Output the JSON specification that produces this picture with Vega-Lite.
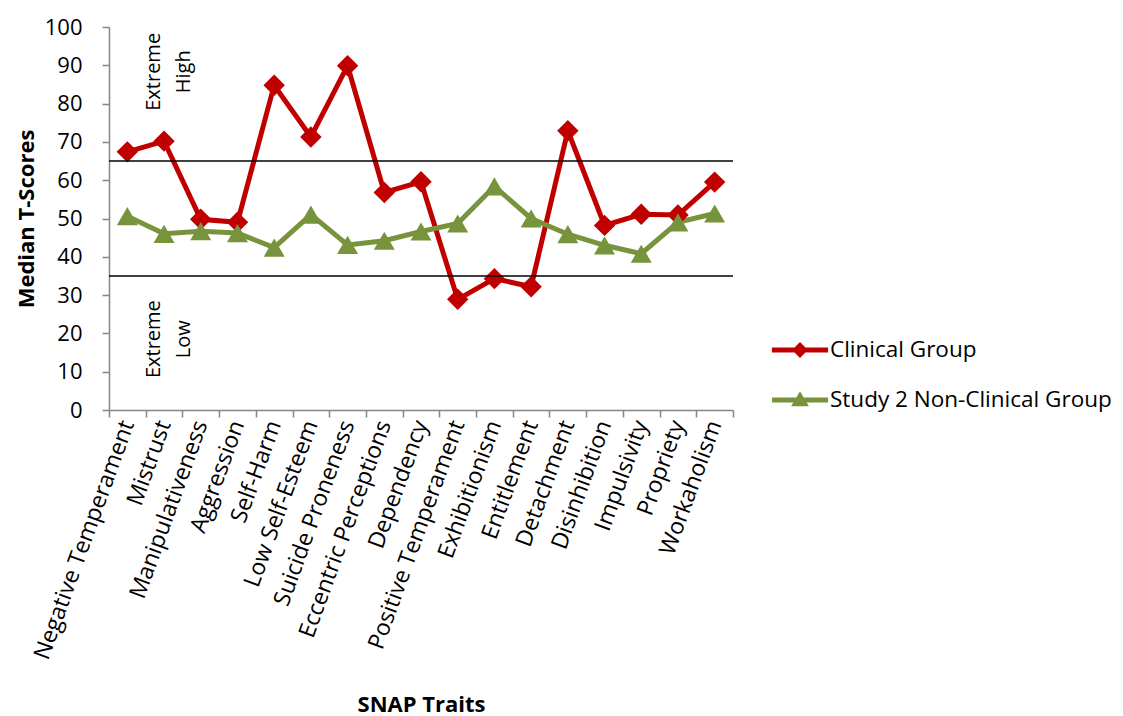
{
  "$schema": "https://vega.github.io/schema/vega-lite/v6.json",
  "width": 624,
  "height": 383,
  "autosize": {"type": "none"},
  "padding": {"left": 109, "top": 27, "right": 390, "bottom": 306},
  "background": "white",
  "config": {
    "view": {"stroke": null},
    "font": "Open Sans",
    "text": {"lineBreak": "\n"},
    "axis": {"grid": false, "domainColor": "#868686", "tickColor": "#868686", "domainWidth": 1.5, "tickWidth": 1.5, "labelColor": "black", "titleColor": "black", "labelFont": "Open Sans", "titleFont": "Open Sans"}
  },
  "datasets": {
    "scores": [
      {"trait": "Negative Temperament", "group": "Clinical Group", "score": 67.4},
      {"trait": "Mistrust", "group": "Clinical Group", "score": 70.2},
      {"trait": "Manipulativeness", "group": "Clinical Group", "score": 49.8},
      {"trait": "Aggression", "group": "Clinical Group", "score": 49.0},
      {"trait": "Self-Harm", "group": "Clinical Group", "score": 84.8},
      {"trait": "Low Self-Esteem", "group": "Clinical Group", "score": 71.3},
      {"trait": "Suicide Proneness", "group": "Clinical Group", "score": 89.9},
      {"trait": "Eccentric Perceptions", "group": "Clinical Group", "score": 56.8},
      {"trait": "Dependency", "group": "Clinical Group", "score": 59.6},
      {"trait": "Positive Temperament", "group": "Clinical Group", "score": 28.9},
      {"trait": "Exhibitionism", "group": "Clinical Group", "score": 34.3},
      {"trait": "Entitlement", "group": "Clinical Group", "score": 32.2},
      {"trait": "Detachment", "group": "Clinical Group", "score": 72.9},
      {"trait": "Disinhibition", "group": "Clinical Group", "score": 48.2},
      {"trait": "Impulsivity", "group": "Clinical Group", "score": 51.1},
      {"trait": "Propriety", "group": "Clinical Group", "score": 50.9},
      {"trait": "Workaholism", "group": "Clinical Group", "score": 59.5},
      {"trait": "Negative Temperament", "group": "Study 2 Non-Clinical Group", "score": 50.6},
      {"trait": "Mistrust", "group": "Study 2 Non-Clinical Group", "score": 46.0},
      {"trait": "Manipulativeness", "group": "Study 2 Non-Clinical Group", "score": 46.7},
      {"trait": "Aggression", "group": "Study 2 Non-Clinical Group", "score": 46.2},
      {"trait": "Self-Harm", "group": "Study 2 Non-Clinical Group", "score": 42.4},
      {"trait": "Low Self-Esteem", "group": "Study 2 Non-Clinical Group", "score": 51.0},
      {"trait": "Suicide Proneness", "group": "Study 2 Non-Clinical Group", "score": 43.1},
      {"trait": "Eccentric Perceptions", "group": "Study 2 Non-Clinical Group", "score": 44.2},
      {"trait": "Dependency", "group": "Study 2 Non-Clinical Group", "score": 46.6},
      {"trait": "Positive Temperament", "group": "Study 2 Non-Clinical Group", "score": 48.7},
      {"trait": "Exhibitionism", "group": "Study 2 Non-Clinical Group", "score": 58.4},
      {"trait": "Entitlement", "group": "Study 2 Non-Clinical Group", "score": 50.0},
      {"trait": "Detachment", "group": "Study 2 Non-Clinical Group", "score": 45.9},
      {"trait": "Disinhibition", "group": "Study 2 Non-Clinical Group", "score": 43.0},
      {"trait": "Impulsivity", "group": "Study 2 Non-Clinical Group", "score": 40.8},
      {"trait": "Propriety", "group": "Study 2 Non-Clinical Group", "score": 49.0},
      {"trait": "Workaholism", "group": "Study 2 Non-Clinical Group", "score": 51.3}
    ],
    "cutoffs": [{"score": 65}, {"score": 35}],
    "notes": [
      {"trait": "Mistrust", "score": 88.3, "label": "Extreme\nHigh"},
      {"trait": "Mistrust", "score": 18.5, "label": "Extreme\nLow"}
    ]
  },
  "encoding": {
    "y": {
      "field": "score",
      "type": "quantitative",
      "scale": {"domain": [0, 100], "nice": false, "zero": true},
      "axis": {
        "title": "Median T-Scores",
        "titleFontSize": 22,
        "titleFontWeight": "bold",
        "titlePadding": 6,
        "values": [0, 10, 20, 30, 40, 50, 60, 70, 80, 90, 100],
        "tickCount": 11,
        "labelOverlap": false,
        "labelSeparation": 0,
        "labelFontSize": 22,
        "labelPadding": 20,
        "tickSize": 7
      }
    }
  },
  "layer": [
    {
      "data": {"name": "scores"},
      "mark": {"type": "line", "strokeWidth": 5, "strokeJoin": "miter"},
      "encoding": {
        "x": {
          "field": "trait",
          "type": "nominal",
          "bandPosition": 0.5,
          "scale": {
            "type": "band",
            "paddingInner": 0,
            "paddingOuter": 0,
            "domain": ["Negative Temperament", "Mistrust", "Manipulativeness", "Aggression", "Self-Harm", "Low Self-Esteem", "Suicide Proneness", "Eccentric Perceptions", "Dependency", "Positive Temperament", "Exhibitionism", "Entitlement", "Detachment", "Disinhibition", "Impulsivity", "Propriety", "Workaholism"]
          },
          "axis": {
            "title": "SNAP Traits",
            "titleFontSize": 22,
            "titleFontWeight": "bold",
            "titlePadding": 84,
            "labelAngle": -70,
            "labelAlign": "right",
            "labelBaseline": "middle",
            "labelFontSize": 23,
            "labelPadding": 4,
            "labelLimit": 400,
            "labelOverlap": false,
            "tickBand": "extent",
            "tickSize": 7
          }
        },
        "color": {
          "field": "group",
          "type": "nominal",
          "scale": {"domain": ["Clinical Group", "Study 2 Non-Clinical Group"], "range": ["#C00000", "#77933C"]},
          "legend": {
            "title": null,
            "orient": "none",
            "legendX": 667,
            "legendY": 299,
            "padding": 0,
            "symbolSize": 2304,
            "symbolStrokeWidth": 0,
            "symbolOpacity": 1,
            "rowPadding": 14,
            "labelOffset": 6,
            "labelFontSize": 22.5,
            "labelFont": "Open Sans",
            "labelColor": "black",
            "labelLimit": 400,
            "encode": {
              "symbols": {
                "update": {
                  "shape": {"signal": "datum.value === 'Clinical Group' ? 'M-1.17,-0.1H1.17V0.1H-1.17Z M0,-0.33L0.33,0L0,0.33L-0.33,0Z' : 'M-1.17,-0.1H1.17V0.1H-1.17Z M0,-0.36L0.37,0.26H-0.37Z'"},
                  "fill": {"signal": "datum.value === 'Clinical Group' ? '#C00000' : '#77933C'"},
                  "strokeWidth": {"value": 0},
                  "opacity": {"value": 1}
                }
              }
            }
          }
        }
      }
    },
    {
      "data": {"name": "scores"},
      "transform": [{"filter": "datum.group === 'Clinical Group'"}],
      "mark": {"type": "point", "filled": true, "size": 460, "opacity": 1, "shape": "diamond", "color": "#C00000"},
      "encoding": {
        "x": {"field": "trait", "type": "nominal", "bandPosition": 0.5}
      }
    },
    {
      "data": {"name": "scores"},
      "transform": [{"filter": "datum.group !== 'Clinical Group'"}],
      "mark": {"type": "point", "filled": true, "size": 440, "opacity": 1, "shape": "triangle-up", "color": "#77933C"},
      "encoding": {
        "x": {"field": "trait", "type": "nominal", "bandPosition": 0.5}
      }
    },
    {
      "data": {"name": "cutoffs"},
      "mark": {"type": "rule", "color": "black", "strokeWidth": 1.6},
      "encoding": {}
    },
    {
      "data": {"name": "notes"},
      "mark": {"type": "text", "angle": 270, "align": "center", "baseline": "middle", "fontSize": 20, "lineHeight": 30, "color": "black", "dy": -10},
      "encoding": {
        "x": {"field": "trait", "type": "nominal", "bandPosition": 0.5},
        "text": {"field": "label"}
      }
    }
  ]
}
